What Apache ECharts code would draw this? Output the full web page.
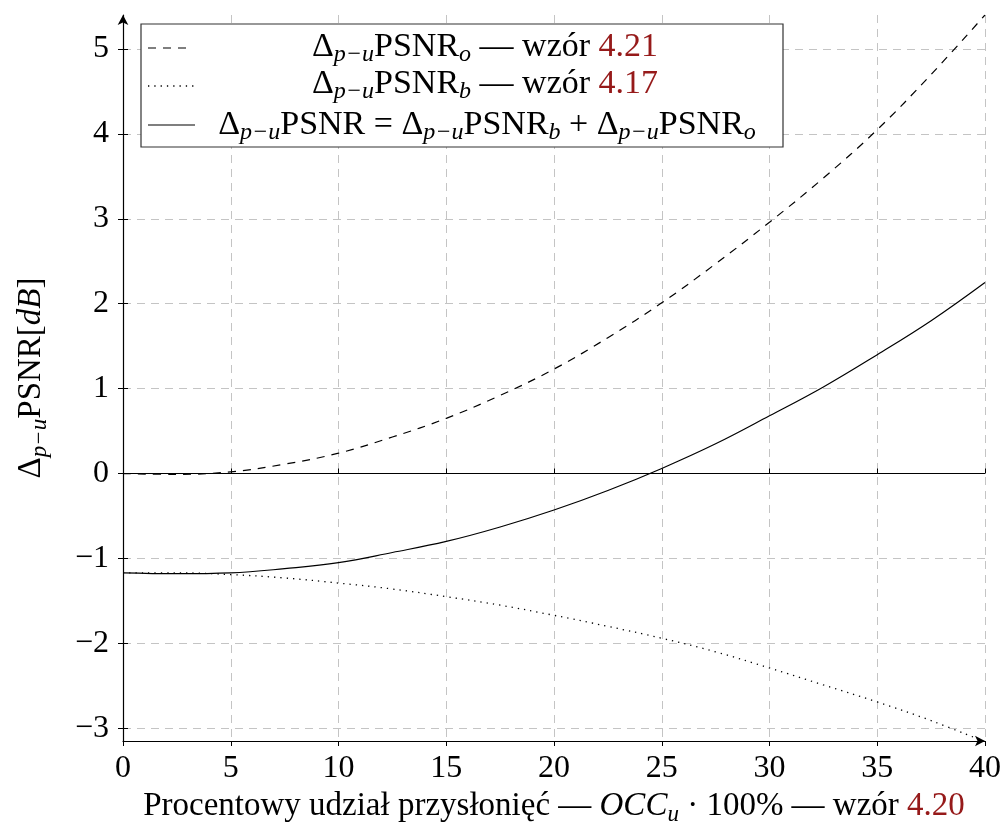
<!DOCTYPE html>
<html>
<head>
<meta charset="utf-8">
<script src="https://cdn.jsdelivr.net/npm/echarts@6/dist/echarts.min.js"></script>
<style>html,body{margin:0;padding:0;background:#fff;}#c{width:1005px;height:828px;}</style>
</head>
<body>
<div id="c"></div>
<script>
// ---- data ----
const xValues  = [0, 2.5, 5, 7.5, 10, 12.5, 15, 17.5, 20, 22.5, 25, 27.5, 30, 32.5, 35, 37.5, 40];
const psnrO    = [0, -0.01, 0.02, 0.11, 0.24, 0.43, 0.65, 0.92, 1.23, 1.60, 2.01, 2.47, 2.96, 3.48, 4.05, 4.70, 5.40];
const psnrB    = [-1.17, -1.17, -1.19, -1.23, -1.29, -1.36, -1.45, -1.55, -1.67, -1.80, -1.94, -2.10, -2.29, -2.49, -2.69, -2.91, -3.16];
const psnrSum  = [-1.17, -1.18, -1.17, -1.12, -1.05, -0.93, -0.80, -0.63, -0.43, -0.20, 0.06, 0.35, 0.68, 1.02, 1.40, 1.80, 2.25];
const zeroLevel = 0;
const xTickLabels = [0, 5, 10, 15, 20, 25, 30, 35, 40];
const yTickLabels = [-3, -2, -1, 0, 1, 2, 3, 4, 5];

const FONT = 'Liberation Serif';
const FS = 32;
const NFS = 33;
const RED = '#961a1a';
const fmt = v => (v < 0 ? '\u2212' + Math.abs(v) : String(v));

// rich styles for axis names (echarts text style)
const rich = {
  n: { fontFamily: FONT, fontSize: NFS, lineHeight: 40, color: '#000' },
  i: { fontFamily: FONT, fontSize: NFS, lineHeight: 40, color: '#000', fontStyle: 'italic' },
  s: { fontFamily: FONT, fontSize: 23, lineHeight: 18, color: '#000', fontStyle: 'italic', verticalAlign: 'bottom' },
  r: { fontFamily: FONT, fontSize: NFS, lineHeight: 40, color: RED }
};
// rich styles for graphic text (zrender style)
const LFS = 34;
const grich = {
  n: { font: LFS + "px 'Liberation Serif'", fontFamily: FONT, fontSize: LFS, lineHeight: 40, fill: '#000' },
  s: { font: "italic 24px 'Liberation Serif'", fontFamily: FONT, fontSize: 24, fontStyle: 'italic', lineHeight: 18, fill: '#000', verticalAlign: 'bottom' },
  r: { font: LFS + "px 'Liberation Serif'", fontFamily: FONT, fontSize: LFS, lineHeight: 40, fill: RED }
};

const chart = echarts.init(document.getElementById('c'), null, { renderer: 'canvas' });
const pairs = arr => xValues.map((x, k) => [x, arr[k]]);

const gridLine = { show: true, lineStyle: { color: '#c4c4c4', width: 1, type: [8, 6] } };

chart.setOption({
  animation: false,
  backgroundColor: '#fff',
  grid: { left: 123, right: 20, top: 15, bottom: 87, containLabel: false, outerBoundsMode: 'none' },
  xAxis: [{
    type: 'value', min: 0, max: 40, interval: 5,
    axisLine: { show: true, onZero: false, symbol: ['none', 'arrow'], symbolSize: [8, 10], lineStyle: { color: '#000', width: 1.2 } },
    axisTick: { show: true, length: 5, lineStyle: { color: '#000', width: 1 }, customValues: xTickLabels },
    axisLabel: { color: '#000', fontFamily: FONT, fontSize: FS, margin: 12, formatter: fmt, customValues: xTickLabels },
    splitLine: gridLine,
    name: '{n|Procentowy udział przysłonięć — }{i|OCC}{s|u}{n| · 100% — wzór }{r|4.20}',
    nameLocation: 'middle', nameGap: 45,
    nameTextStyle: { rich: rich }
  }, {
    type: 'value', min: 0, max: 40, interval: 5, position: 'bottom', offset: 0,
    axisLine: { show: false }, axisLabel: { show: false }, splitLine: { show: false },
    axisTick: { show: true, inside: true, length: 5, lineStyle: { color: '#000', width: 1 }, customValues: xTickLabels }
  }],
  yAxis: [{
    type: 'value', min: -3.15, max: 5.4, minInterval: 1, maxInterval: 1,
    axisLine: { show: true, onZero: false, symbol: ['none', 'arrow'], symbolSize: [8, 10], lineStyle: { color: '#000', width: 1.2 } },
    axisTick: { show: true, length: 5, lineStyle: { color: '#000', width: 1 }, customValues: yTickLabels },
    axisLabel: { color: '#000', fontFamily: FONT, fontSize: FS, margin: 14, formatter: fmt, customValues: yTickLabels },
    splitLine: gridLine,
    name: '{n|Δ}{s|p−u}{n|PSNR[}{i|dB}{n|]}',
    nameLocation: 'middle', nameRotate: 90, nameGap: 72,
    nameTextStyle: { rich: rich }
  }, {
    type: 'value', min: -3.15, max: 5.4, minInterval: 1, maxInterval: 1, position: 'left', offset: 0,
    axisLine: { show: false }, axisLabel: { show: false }, splitLine: { show: false },
    axisTick: { show: true, inside: true, length: 5, lineStyle: { color: '#000', width: 1 }, customValues: yTickLabels }
  }],
  series: [
    {
      name: 'o', type: 'line', data: pairs(psnrO), smooth: 0.4, showSymbol: false, symbol: 'none',
      lineStyle: { color: '#000', width: 1.2, type: [8, 7] }, z: 3
    },
    {
      name: 'b', type: 'line', data: pairs(psnrB), smooth: 0.4, showSymbol: false, symbol: 'none',
      lineStyle: { color: '#000', width: 1.3, type: [1.3, 5] }, z: 3
    },
    {
      name: 'sum', type: 'line', data: pairs(psnrSum), smooth: 0.4, showSymbol: false, symbol: 'none',
      lineStyle: { color: '#000', width: 1.2, type: 'solid' }, z: 3,
      markLine: {
        silent: true, symbol: 'none', label: { show: false },
        lineStyle: { color: '#000', width: 1.2, type: 'solid' },
        data: [{ yAxis: zeroLevel }]
      }
    }
  ],
  graphic: [
    { type: 'rect', z: 100, shape: { x: 141, y: 24, width: 642, height: 123 },
      style: { fill: '#fff', stroke: '#333', lineWidth: 1.2 } },
    { type: 'line', z: 101, shape: { x1: 148, y1: 48, x2: 192, y2: 48 },
      style: { stroke: '#000', lineWidth: 1.2, lineDash: [8, 7] } },
    { type: 'line', z: 101, shape: { x1: 148, y1: 86, x2: 196, y2: 86 },
      style: { stroke: '#000', lineWidth: 1.3, lineDash: [1.3, 5] } },
    { type: 'line', z: 101, shape: { x1: 148, y1: 125, x2: 195, y2: 125 },
      style: { stroke: '#000', lineWidth: 1.2 } },
    { type: 'text', z: 101, x: 485, y: 47,
      style: { fontFamily: FONT, fontSize: LFS, fill: '#000', text: '{n|Δ}{s|p−u}{n|PSNR}{s|o}{n| — wzór }{r|4.21}', rich: grich, align: 'center', verticalAlign: 'middle' } },
    { type: 'text', z: 101, x: 485, y: 84,
      style: { fontFamily: FONT, fontSize: LFS, fill: '#000', text: '{n|Δ}{s|p−u}{n|PSNR}{s|b}{n| — wzór }{r|4.17}', rich: grich, align: 'center', verticalAlign: 'middle' } },
    { type: 'text', z: 101, x: 487, y: 125,
      style: { fontFamily: FONT, fontSize: LFS, fill: '#000', text: '{n|Δ}{s|p−u}{n|PSNR = Δ}{s|p−u}{n|PSNR}{s|b}{n| + Δ}{s|p−u}{n|PSNR}{s|o}', rich: grich, align: 'center', verticalAlign: 'middle' } }
  ]
});
</script>
</body>
</html>
